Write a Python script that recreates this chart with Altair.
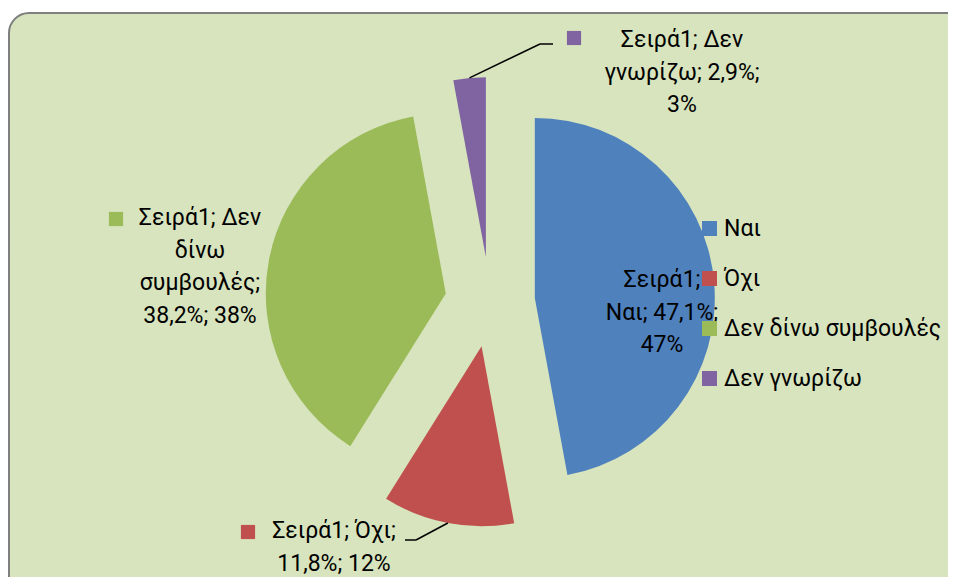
import textwrap
import altair as alt
import pandas as pd

# ---- data ----
series_name = "Σειρά1"
categories = ["Ναι", "Όχι", "Δεν δίνω συμβουλές", "Δεν γνωρίζω"]
values = [47.1, 11.8, 38.2, 2.9]
colors = ["#4F81BD", "#C0504D", "#9BBB59", "#8064A2"]

# ---- layout (chart pixel coordinates) ----
W, H = 940, 569
CX, CY = 482, 294
RADIUS = 180
EXPLODE = 45
FONT = "Roboto"
FS = 23
wrap_widths = [11, 12, 11, 14]
label_pos = [(654, 272), (326, 523), (192, 210), (674, 32)]
square_pos = [(None, None), (240, 524), (108, 211), (566, 30)]
leader_knee = [(None, None), (408, 532), (None, None), (532, 36)]
leader_end = [(None, None), (397, 532), (None, None), (545, 36)]


def fmt(v):
    return f"{v:.1f}".replace(".", ",") + "%"


labels = []
for c, v, w in zip(categories, values, wrap_widths):
    full = f"{series_name}; {c}; {fmt(v)}; {round(v)}%"
    labels.append("\n".join(textwrap.wrap(full, width=w)))

df = pd.DataFrame({
    "category": categories,
    "value": values,
    "order": list(range(len(categories))),
    "label": labels,
    "lx": [p[0] for p in label_pos],
    "ly": [p[1] for p in label_pos],
    "sx": [p[0] for p in square_pos],
    "sy": [p[1] for p in square_pos],
    "kx": [p[0] for p in leader_knee],
    "ky": [p[1] for p in leader_knee],
    "ex": [p[0] for p in leader_end],
    "ey": [p[1] for p in leader_end],
})

color = alt.Color(
    "category:N",
    scale=alt.Scale(domain=categories, range=colors),
    sort=categories,
    legend=alt.Legend(
        title=None,
        orient="none",
        legendX=690,
        legendY=209,
        symbolType="square",
        symbolSize=225,
        symbolStrokeWidth=0,
        labelFont=FONT,
        labelFontSize=FS,
        labelColor="black",
        labelOffset=3,
        rowPadding=26,
        padding=0,
        labelLimit=400,
    ),
)

base = (
    alt.Chart(df)
    .transform_joinaggregate(total="sum(value)")
    .transform_window(cum="sum(value)", sort=[alt.SortField("order")])
    .transform_calculate(
        t0="(datum.cum - datum.value) / datum.total * 2 * PI",
        t1="datum.cum / datum.total * 2 * PI",
    )
    .transform_calculate(mid="(datum.t0 + datum.t1) / 2")
    .transform_calculate(
        cx=f"{CX} + {EXPLODE} * sin(datum.mid)",
        cy=f"{CY} - {EXPLODE} * cos(datum.mid)",
    )
    .transform_calculate(
        ox=f"datum.cx + {RADIUS} * sin(datum.mid)",
        oy=f"datum.cy - {RADIUS} * cos(datum.mid)",
    )
)

bg = alt.Chart(pd.DataFrame({"a": [0]})).mark_rect(
    cornerRadius=20, fill="#D7E4BD", stroke="#7F7F7F", strokeWidth=2
).encode(
    x=alt.value(1), x2=alt.value(1100), y=alt.value(5), y2=alt.value(800)
)

arcs = base.mark_arc(outerRadius=RADIUS).encode(
    theta=alt.Theta("t0:Q", scale=None),
    theta2="t1:Q",
    x=alt.X("cx:Q", scale=None),
    y=alt.Y("cy:Q", scale=None),
    color=color,
)

leader1 = base.transform_filter("isValid(datum.kx)").mark_rule(
    color="black", strokeWidth=1.5
).encode(
    x=alt.X("ox:Q", scale=None), y=alt.Y("oy:Q", scale=None),
    x2="kx:Q", y2="ky:Q",
)
leader2 = base.transform_filter("isValid(datum.kx)").mark_rule(
    color="black", strokeWidth=1.5
).encode(
    x=alt.X("kx:Q", scale=None), y=alt.Y("ky:Q", scale=None),
    x2="ex:Q", y2="ey:Q",
)

squares = base.transform_filter("isValid(datum.sx)").mark_point(
    shape="square", size=200, filled=True, opacity=1, strokeWidth=0
).encode(
    x=alt.X("sx:Q", scale=None),
    y=alt.Y("sy:Q", scale=None),
    color=alt.Color("category:N", scale=alt.Scale(domain=categories, range=colors), legend=None),
)

texts = base.mark_text(
    lineBreak="\n", align="center", baseline="middle", lineHeight=32.5,
    font=FONT, fontSize=FS, color="black",
).encode(
    x=alt.X("lx:Q", scale=None),
    y=alt.Y("ly:Q", scale=None),
    text="label:N",
)

chart = alt.layer(bg, arcs, leader1, leader2, squares, texts).properties(
    width=W, height=H, autosize=alt.AutoSizeParams(type="none"), padding=0,
    background="white",
).configure_view(stroke=None)

chart.save("out.html", embed_options={"renderer": "svg", "actions": False})
